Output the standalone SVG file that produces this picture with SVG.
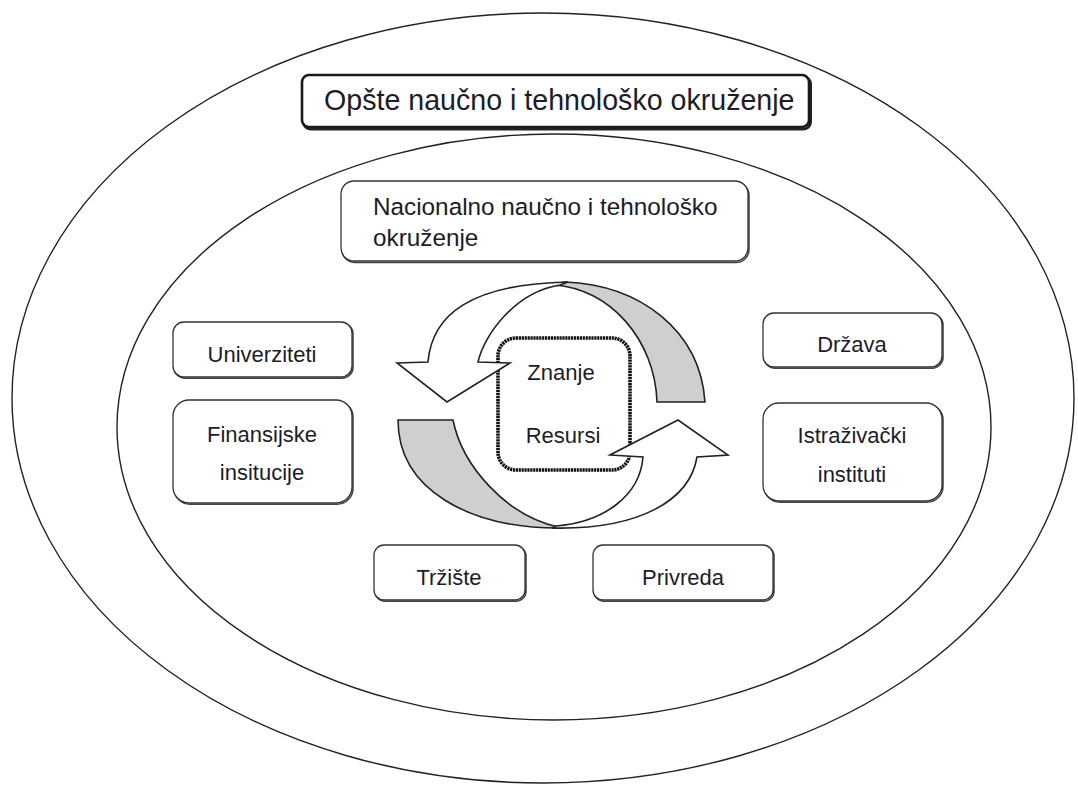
<svg xmlns="http://www.w3.org/2000/svg" width="1078" height="785" viewBox="0 0 1078 785">
<style>
  .ell { fill: none; stroke: #222; stroke-width: 1.4; }
  .box { fill: #fff; stroke: #333; stroke-width: 1.3; }
  .shadow { fill: none; stroke: #444; stroke-width: 1.6; }
  .txt { font-family: "Liberation Sans", Arial, sans-serif; font-size: 22px; fill: #1c1c2a; text-anchor: middle; }
  .arrow { fill: #fff; stroke: #222; stroke-width: 1.6; stroke-linejoin: miter; }
  .back { fill: #cfcfcf; stroke: #222; stroke-width: 1.6; stroke-linejoin: miter; }
  .dotted { fill: #fff; stroke: #111; stroke-width: 3.6; stroke-dasharray: 2.2 0.7; }
</style>
<rect x="0" y="0" width="1078" height="785" fill="#fff"/>

<g id="outer-environment">
  <ellipse class="ell" cx="543" cy="398" rx="531" ry="385"/>
</g>
<g id="national-environment">
  <ellipse class="ell" cx="554" cy="427" rx="437" ry="293"/>
</g>

<g id="node-opste">
  <rect x="303.5" y="77" width="507" height="52" rx="7" fill="none" stroke="#222" stroke-width="3"/>
  <rect x="302" y="75" width="507" height="52" rx="7" fill="#fff" stroke="#1a1a1a" stroke-width="2.6"/>
  <text x="324" y="110" style="font-family:'Liberation Sans', Arial, sans-serif; font-size:28.6px; fill:#1c1c2a;">Opšte naučno i tehnološko okruženje</text>
</g>

<g id="node-nacionalno">
  <rect class="shadow" x="342" y="182.5" width="407" height="80" rx="13" stroke-width="2.2"/>
  <rect class="box" x="341" y="181" width="407" height="80" rx="13"/>
  <text x="373" y="215" style="font-family:'Liberation Sans', Arial, sans-serif; font-size:24.3px; fill:#1c1c2a;">Nacionalno naučno i tehnološko</text>
  <text x="373" y="246" style="font-family:'Liberation Sans', Arial, sans-serif; font-size:24.3px; fill:#1c1c2a;">okruženje</text>
</g>

<g id="node-univerziteti">
  <rect class="shadow" x="174" y="323.2" width="179" height="55" rx="11"/>
  <rect class="box" x="173" y="322" width="179" height="55" rx="11"/>
  <text class="txt" x="262" y="362">Univerziteti</text>
</g>

<g id="node-finansijske">
  <rect class="shadow" x="174" y="401.2" width="179" height="103" rx="16"/>
  <rect class="box" x="173" y="400" width="179" height="103" rx="16"/>
  <text class="txt" x="262" y="442">Finansijske</text>
  <text class="txt" x="262" y="480">insitucije</text>
</g>

<g id="node-drzava">
  <rect class="shadow" x="764" y="314.2" width="179" height="54" rx="11"/>
  <rect class="box" x="763" y="313" width="179" height="54" rx="11"/>
  <text class="txt" x="852" y="352">Država</text>
</g>

<g id="node-istrazivacki">
  <rect class="shadow" x="764" y="404.2" width="179" height="98" rx="16"/>
  <rect class="box" x="763" y="403" width="179" height="98" rx="16"/>
  <text class="txt" x="852" y="443">Istraživački</text>
  <text class="txt" x="852" y="482">instituti</text>
</g>

<g id="node-trziste">
  <rect class="shadow" x="375" y="546.2" width="151" height="55" rx="10"/>
  <rect class="box" x="374" y="545" width="151" height="55" rx="10"/>
  <text class="txt" x="449" y="585">Tržište</text>
</g>

<g id="node-privreda">
  <rect class="shadow" x="594" y="546.2" width="180" height="55" rx="10"/>
  <rect class="box" x="593" y="545" width="180" height="55" rx="10"/>
  <text class="txt" x="683" y="585">Privreda</text>
</g>

<g id="connectors">
  <path class="back" d="M 565,282 C 640,285 700,330 705,402 L 657,402 C 655,340 610,288 553,285 Z"/>
  <path class="back" d="M 398,420 L 453,420 C 462,465 505,515 558,527 L 558,528 C 470,528 398,490 398,420 Z"/>
</g>

<g id="node-znanje-resursi">
  <rect class="dotted" x="498" y="338" width="132" height="132" rx="18"/>
  <text class="txt" x="561" y="380">Znanje</text>
  <text class="txt" x="563" y="443">Resursi</text>
</g>

<g id="connectors-front">
  <path class="arrow" d="M 397,363 L 428,362 C 432,315 470,284 568,282 L 560,285 C 515,292 484,335 478,362 L 510,363 L 447,402 Z"/>
  <path class="arrow" d="M 610,455 L 643,457 C 640,495 605,522 556,526 L 552,528 C 640,530 690,500 697,457 L 728,455 L 678,420 Z"/>
</g>
</svg>
